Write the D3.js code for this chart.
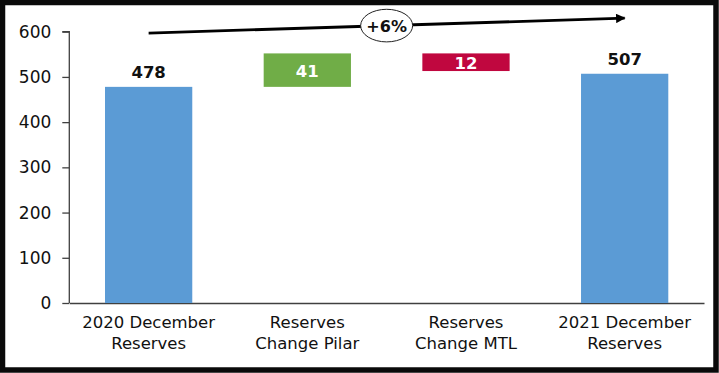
<!DOCTYPE html>
<html>
<head>
<meta charset="utf-8">
<script src="https://cdn.jsdelivr.net/npm/d3@7"></script>
<style>
  html, body { margin: 0; padding: 0; background: #fff; }
  svg { display: block; }
  text { font-family: "DejaVu Sans", sans-serif; fill: #111; }
</style>
</head>
<body>
<script>
// chart data
const categories = [
  ['2020 December', 'Reserves'],
  ['Reserves', 'Change Pilar'],
  ['Reserves', 'Change MTL'],
  ['2021 December', 'Reserves']
];
const barLow = [0, 478, 513, 0];
const barHigh = [478, 552, 552, 507];
const barLabels = ['478', '41', '12', '507'];
const barKinds = ['total', 'up', 'down', 'total'];
const yTicks = [0, 100, 200, 300, 400, 500, 600];
const growthLabel = '+6%';
const growthFrom = [0, 597];
const growthTo = [3, 630];

const width = 719, height = 373;
const colors = { total: '#5b9bd5', up: '#70ad47', down: '#c0073f' };

const svg = d3.select('body')
  .append('svg')
  .attr('width', width)
  .attr('height', height);

const x = d3.scaleBand()
  .domain(d3.range(categories.length))
  .range([69.3, 704])
  .paddingInner(0.45)
  .paddingOuter(0.225);
const y = d3.scaleLinear().domain([0, 600]).range([303, 31.7]);

// y axis
const yAxis = svg.append('g')
  .attr('transform', 'translate(69.3,0)')
  .call(d3.axisLeft(y).tickValues(yTicks).tickSize(7).tickPadding(11));
yAxis.select('.domain').attr('stroke', '#404040').attr('stroke-width', 1.3).attr('d', `M-7,${y(600)}H0V${y(0)}`);
yAxis.selectAll('.tick line').attr('stroke', '#404040').attr('stroke-width', 1.3);
yAxis.selectAll('.tick text').attr('font-size', 17).attr('fill', '#111')
  .attr('font-family', '"DejaVu Sans", sans-serif');

// x axis line
const xAxis = svg.append('g')
  .attr('transform', `translate(0,${y(0)})`)
  .call(d3.axisBottom(x).tickSize(0).tickFormat(''));
xAxis.select('.domain').attr('stroke', '#404040').attr('stroke-width', 1.3);

// category labels
svg.selectAll('.cat')
  .data(categories)
  .join('text')
  .attr('class', 'cat')
  .attr('text-anchor', 'middle')
  .attr('font-size', 16.5)
  .attr('x', (d, i) => x(i) + x.bandwidth() / 2)
  .attr('y', 327.5)
  .selectAll('tspan')
  .data(d => d)
  .join('tspan')
  .attr('x', function () { return this.parentNode.getAttribute('x'); })
  .attr('dy', (d, i) => i === 0 ? 0 : 21.7)
  .text(d => d);

// bars
svg.selectAll('.bar')
  .data(categories)
  .join('rect')
  .attr('class', 'bar')
  .attr('x', (d, i) => x(i))
  .attr('width', x.bandwidth())
  .attr('y', (d, i) => y(barHigh[i]))
  .attr('height', (d, i) => y(barLow[i]) - y(barHigh[i]))
  .attr('fill', (d, i) => colors[barKinds[i]]);

// bar labels: totals above, changes inside in white
svg.selectAll('.lbl')
  .data(barLabels)
  .join('text')
  .attr('class', 'lbl')
  .attr('text-anchor', 'middle')
  .attr('font-size', 16.5)
  .attr('font-weight', 'bold')
  .attr('x', (d, i) => x(i) + x.bandwidth() / 2)
  .attr('y', (d, i) => barKinds[i] === 'total'
    ? y(barHigh[i]) - 8.5
    : (y(barHigh[i]) + y(barLow[i])) / 2 + 6.5)
  .style('fill', (d, i) => barKinds[i] === 'total' ? '#111' : '#fff')
  .text(d => d);

// growth arrow
svg.append('defs').append('marker')
  .attr('id', 'head')
  .attr('viewBox', '0 0 10 10')
  .attr('refX', 9).attr('refY', 5)
  .attr('markerWidth', 4.4).attr('markerHeight', 3.4)
  .attr('markerUnits', 'strokeWidth')
  .attr('orient', 'auto')
  .append('path')
  .attr('d', 'M0,0L10,5L0,10Z')
  .attr('fill', '#000');

const x0 = x(growthFrom[0]) + x.bandwidth() / 2;
const x1 = x(growthTo[0]) + x.bandwidth() / 2;
svg.append('line')
  .attr('x1', x0).attr('y1', y(growthFrom[1]))
  .attr('x2', x1).attr('y2', y(growthTo[1]))
  .attr('stroke', '#000')
  .attr('stroke-width', 2.8)
  .attr('marker-end', 'url(#head)');

const mx = (x0 + x1) / 2;
const my = (y(growthFrom[1]) + y(growthTo[1])) / 2;
svg.append('ellipse')
  .attr('cx', mx).attr('cy', my)
  .attr('rx', 26).attr('ry', 16.3)
  .attr('fill', '#fff')
  .attr('stroke', '#222')
  .attr('stroke-width', 1);
svg.append('text')
  .attr('x', mx).attr('y', my + 6)
  .attr('text-anchor', 'middle')
  .attr('font-size', 16)
  .attr('font-weight', 'bold')
  .text(growthLabel);

// frame
svg.append('rect')
  .attr('x', 2.5).attr('y', 2.5)
  .attr('width', width - 5.5).attr('height', height - 5.5)
  .attr('fill', 'none')
  .attr('stroke', '#0a0a0a')
  .attr('stroke-width', 5.5);
</script>
</body>
</html>
